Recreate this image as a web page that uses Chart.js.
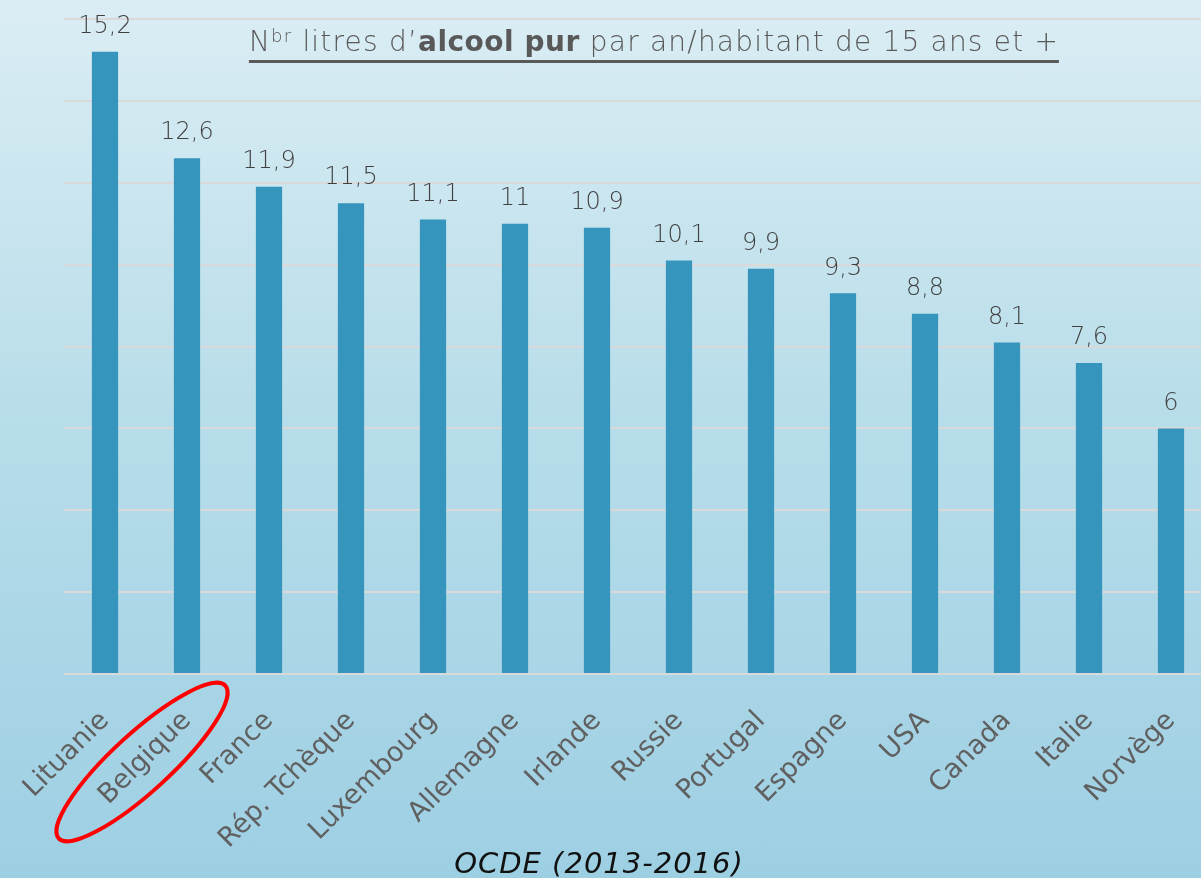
<!DOCTYPE html>
<html>
<head>
<meta charset="utf-8">
<script src="https://cdn.jsdelivr.net/npm/chart.js@4.4.0/dist/chart.umd.min.js"></script>
<style>
  html, body { margin: 0; padding: 0; }
  body {
    width: 1201px; height: 878px; overflow: hidden; position: relative;
    background: linear-gradient(to bottom, #dbedf4 0%, #b9deea 45%, #9dcfe3 100%);
    font-family: "DejaVu Sans", sans-serif;
  }
  #wrap { position: absolute; left: 0; top: 0; width: 1212px; height: 878px; }
  #title {
    position: absolute; left: 654px; top: 27px; transform: translateX(-50%);
    white-space: nowrap; font-size: 28px; font-weight: 300; color: #595959; letter-spacing: 1.2px;
    line-height: 30px; border-bottom: 3px solid #595959; padding-bottom: 3px;
  }
  #title b { font-weight: bold; letter-spacing: 0.5px; }
  #title sup { font-size: 18px; vertical-align: 9px; line-height: 0; }
  #source {
    position: absolute; left: 599px; top: 846px; transform: translateX(-50%);
    white-space: nowrap; font-size: 29px; font-style: italic; color: #111; line-height: 1.2; letter-spacing: 1px;
  }
</style>
</head>
<body>
<div id="wrap"><canvas id="chart" width="1212" height="878"></canvas></div>
<div id="title">N<sup>br</sup> litres d’<b>alcool pur</b> par an/habitant de 15 ans et +</div>
<div id="source">OCDE (2013-2016)</div>

<script>
// ── Data ─────────────────────────────────────────────────────
const countries = ['Lituanie','Belgique','France','Rép. Tchèque','Luxembourg','Allemagne',
                   'Irlande','Russie','Portugal','Espagne','USA','Canada','Italie','Norvège'];
const litres    = [15.2, 12.6, 11.9, 11.5, 11.1, 11, 10.9, 10.1, 9.9, 9.3, 8.8, 8.1, 7.6, 6];
const yMax      = 16;
const yStep     = 2;
const circled   = 'Belgique';

// ── Plugins ──────────────────────────────────────────────────
const valueLabels = {
  id: 'valueLabels',
  afterDatasetsDraw(chart) {
    const ctx  = chart.ctx;
    const meta = chart.getDatasetMeta(0);
    ctx.save();
    ctx.font = '300 24px "DejaVu Sans", sans-serif';
    ctx.fillStyle = '#404040';
    ctx.textAlign = 'center';
    ctx.textBaseline = 'middle';
    meta.data.forEach((bar, i) => {
      ctx.fillText(String(litres[i]).replace('.', ','), bar.x, bar.y - 25);
    });
    ctx.restore();
  }
};

const redCircle = {
  id: 'redCircle',
  afterDraw(chart) {
    const x   = chart.scales.x.getPixelForValue(countries.indexOf(circled));
    const ctx = chart.ctx;
    ctx.save();
    ctx.strokeStyle = '#ff0000';
    ctx.lineWidth = 4;
    ctx.beginPath();
    ctx.ellipse(x - 45, chart.chartArea.bottom + 88, 113, 29, -42.5 * Math.PI / 180, 0, Math.PI * 2);
    ctx.stroke();
    ctx.restore();
  }
};

// ── Chart ────────────────────────────────────────────────────
new Chart(document.getElementById('chart').getContext('2d'), {
  type: 'bar',
  data: {
    labels: countries,
    datasets: [{
      data: litres,
      backgroundColor: '#3595bc',
      borderWidth: 0,
      barPercentage: 0.32,
      categoryPercentage: 1,
    }]
  },
  options: {
    responsive: false,
    animation: false,
    layout: { padding: { left: 64, top: 19, right: 0, bottom: 0 } },
    plugins: { legend: { display: false }, tooltip: { enabled: false } },
    scales: {
      x: {
        grid: { display: false },
        border: { display: false },
        ticks: {
          color: '#606060',
          font: { size: 27, family: '"DejaVu Sans", sans-serif' },
          minRotation: 45, maxRotation: 45,
          padding: 23,
          autoSkip: false,
        },
        afterFit: s => {
          s.height = 878 - 674;
          s.paddingLeft = 0;
          s.paddingRight = 0;
        }
      },
      y: {
        min: 0, max: yMax,
        ticks: { display: false, stepSize: yStep },
        grid: { color: '#d9d9d9', lineWidth: 2, drawTicks: false },
        border: { display: false },
        afterFit: s => { s.width = 0; }
      }
    }
  },
  plugins: [valueLabels, redCircle]
});
</script>
</body>
</html>
